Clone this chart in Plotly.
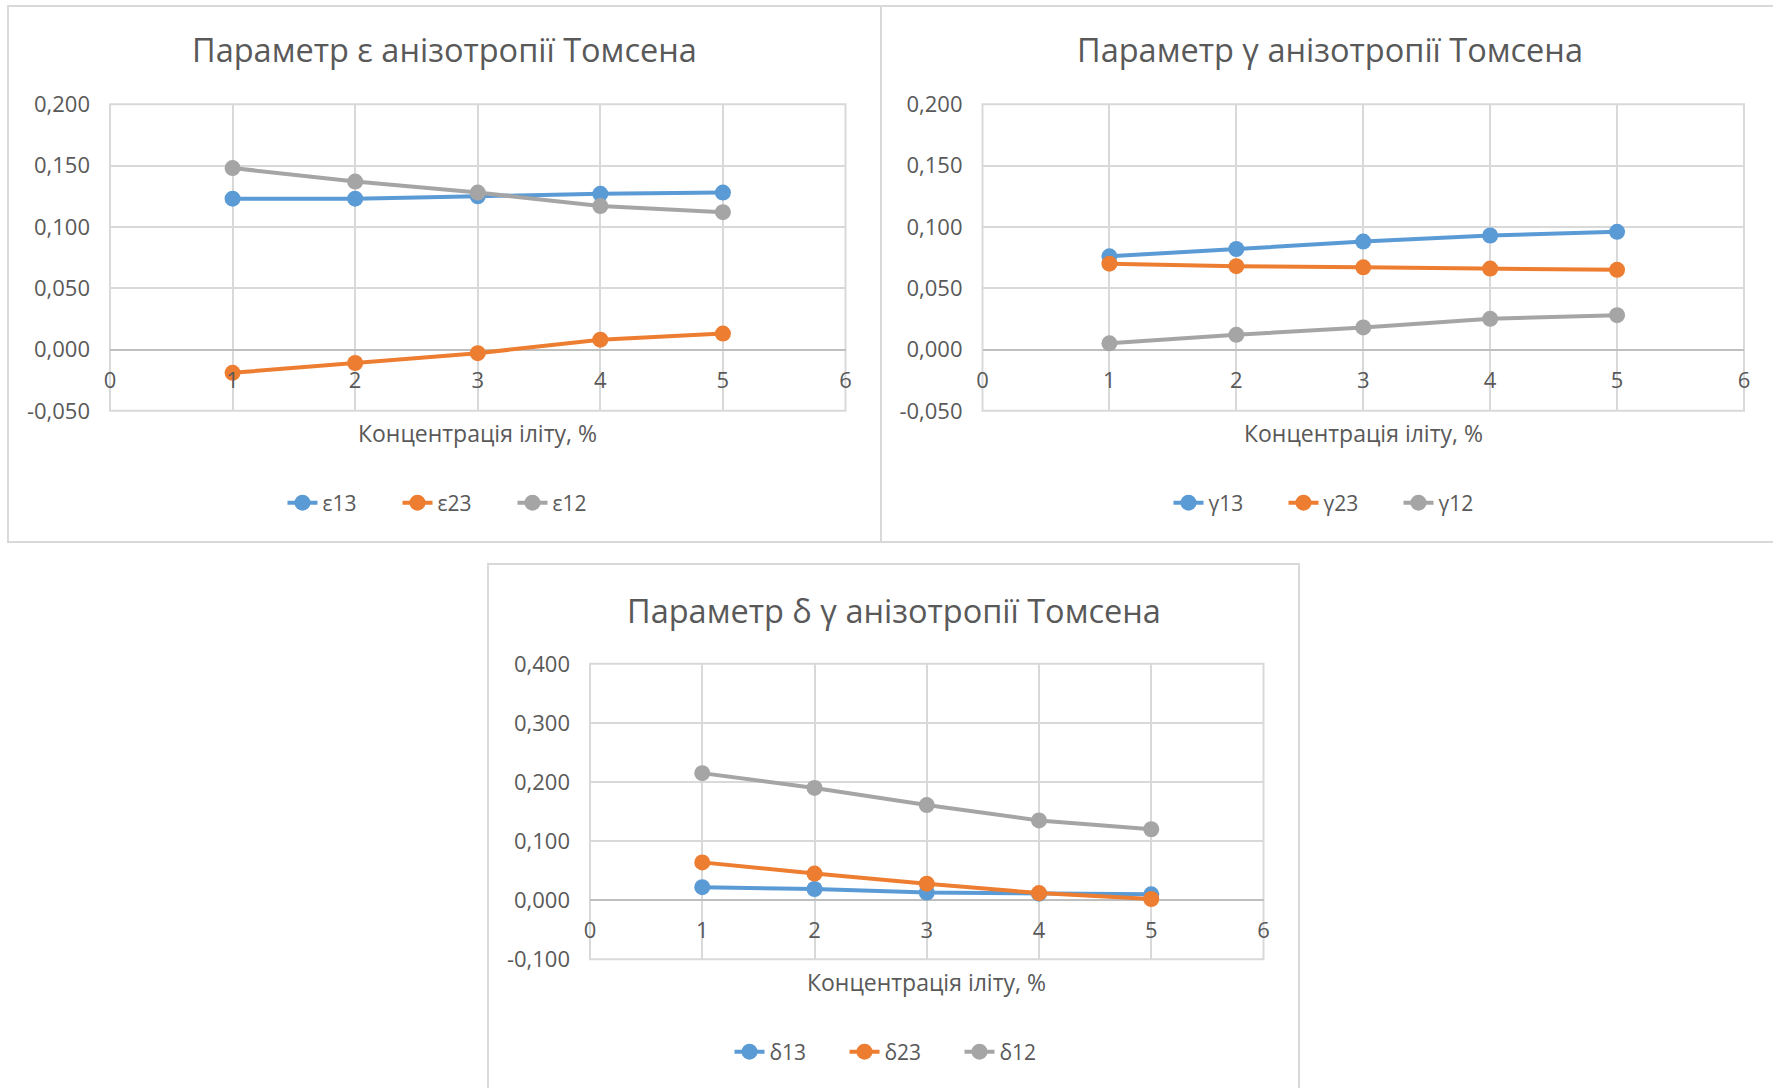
import plotly.graph_objects as go

# ---------------- data ----------------
concentration = [1, 2, 3, 4, 5]

eps13 = [0.123, 0.123, 0.125, 0.127, 0.128]
eps23 = [-0.019, -0.011, -0.003, 0.008, 0.013]
eps12 = [0.148, 0.137, 0.128, 0.117, 0.112]

gam13 = [0.076, 0.082, 0.088, 0.093, 0.096]
gam23 = [0.070, 0.068, 0.067, 0.066, 0.065]
gam12 = [0.005, 0.012, 0.018, 0.025, 0.028]

del13 = [0.022, 0.019, 0.013, 0.011, 0.010]
del23 = [0.064, 0.045, 0.028, 0.012, 0.002]
del12 = [0.215, 0.190, 0.161, 0.135, 0.120]

x_ticks = [0, 1, 2, 3, 4, 5, 6]
y_ticks_top = [-0.05, 0.0, 0.05, 0.10, 0.15, 0.20]
y_ticktext_top = ["-0,050", "0,000", "0,050", "0,100", "0,150", "0,200"]
y_ticks_bot = [-0.1, 0.0, 0.1, 0.2, 0.3, 0.4]
y_ticktext_bot = ["-0,100", "0,000", "0,100", "0,200", "0,300", "0,400"]

titles = ["Параметр ε анізотропії Томсена",
          "Параметр γ анізотропії Томсена",
          "Параметр δ γ анізотропії Томсена"]
x_title = "Концентрація іліту, %"
names_eps = ["ε13", "ε23", "ε12"]
names_gam = ["γ13", "γ23", "γ12"]
names_del = ["δ13", "δ23", "δ12"]

# ---------------- style ----------------
W, H = 1773, 1088
COLORS = ["#5B9BD5", "#ED7D31", "#A5A5A5"]
TXT = "#595959"
GRID = "#D9D9D9"
FONT = "Open Sans"


def px2x(p):
    return p / W


def px2y(p):
    return 1 - p / H


fig = go.Figure()

panels = [
    dict(xa="x", ya="y", px=(110, 845.5), py=(104.3, 410.8), rng=(-0.05, 0.2),
         yt=y_ticks_top, ytt=y_ticktext_top, series=[eps13, eps23, eps12],
         names=names_eps, legend="legend", title=titles[0],
         title_xy=(444, 50), axt_y=433, leg_xy=(455, 503)),
    dict(xa="x2", ya="y2", px=(982.5, 1744), py=(104.3, 410.8), rng=(-0.05, 0.2),
         yt=y_ticks_top, ytt=y_ticktext_top, series=[gam13, gam23, gam12],
         names=names_gam, legend="legend2", title=titles[1],
         title_xy=(1330, 50), axt_y=433, leg_xy=(1341, 503)),
    dict(xa="x3", ya="y3", px=(590, 1263.5), py=(663.8, 959.3), rng=(-0.1, 0.4),
         yt=y_ticks_bot, ytt=y_ticktext_bot, series=[del13, del23, del12],
         names=names_del, legend="legend3", title=titles[2],
         title_xy=(894, 610), axt_y=982, leg_xy=(902, 1052)),
]

annotations = []
shapes = []
for i, p in enumerate(panels):
    sfx = "" if i == 0 else str(i + 1)
    for s, nm, c in zip(p["series"], p["names"], COLORS):
        fig.add_trace(go.Scatter(
            x=concentration, y=s, name=nm, mode="lines+markers",
            line=dict(color=c, width=4),
            marker=dict(color=c, size=16),
            xaxis=p["xa"], yaxis=p["ya"], legend=p["legend"],
            hoverinfo="skip"))
    y0p, y1p = px2y(p["py"][1]), px2y(p["py"][0])
    lo, hi = p["rng"]
    zero_pos = y0p + (0 - lo) / (hi - lo) * (y1p - y0p)
    fig.update_layout(**{
        "xaxis" + sfx: dict(
            domain=[px2x(p["px"][0]), px2x(p["px"][1])],
            range=[0, 6], tickvals=x_ticks, anchor="free", position=zero_pos,
            showgrid=True, gridcolor=GRID, gridwidth=2, zeroline=False,
            showline=False, ticks="", ticklabelstandoff=15,
            tickfont=dict(family=FONT, size=22, color=TXT), fixedrange=True),
        "yaxis" + sfx: dict(
            domain=[y0p, y1p], range=[lo, hi], anchor=p["xa"],
            tickvals=p["yt"], ticktext=p["ytt"],
            showgrid=True, gridcolor=GRID, gridwidth=2,
            zeroline=True, zerolinecolor="#BFBFBF", zerolinewidth=2,
            showline=False, ticks="", ticklabelstandoff=19,
            tickfont=dict(family=FONT, size=22, color=TXT), fixedrange=True),
        p["legend"]: dict(
            orientation="h", x=px2x(p["leg_xy"][0]), y=px2y(p["leg_xy"][1]),
            xanchor="center", yanchor="middle", bgcolor="rgba(0,0,0,0)",
            font=dict(family=FONT, size=21, color=TXT),
            entrywidth=70, entrywidthmode="pixels", tracegroupgap=0),
    })
    # plot-area frame (edge gridlines)
    shapes.append(dict(type="rect", xref=p["xa"] + " domain", yref=p["ya"] + " domain",
                       x0=0, x1=1, y0=0, y1=1, line=dict(color=GRID, width=2),
                       fillcolor="rgba(0,0,0,0)", layer="below"))
    annotations.append(dict(
        text=p["title"], x=px2x(p["title_xy"][0]), y=px2y(p["title_xy"][1]),
        xref="paper", yref="paper", xanchor="center", yanchor="middle",
        showarrow=False, font=dict(family=FONT, size=32.5, color=TXT)))
    annotations.append(dict(
        text=x_title, x=px2x((p["px"][0] + p["px"][1]) / 2), y=px2y(p["axt_y"]),
        xref="paper", yref="paper", xanchor="center", yanchor="middle",
        showarrow=False, font=dict(family=FONT, size=23, color=TXT)))

# chart frames
frames = [(8, 6, 881, 542), (881, 6, 1800, 542), (488, 564, 1299, 1120)]
for a, b, c, d in frames:
    shapes.append(dict(type="rect", xref="paper", yref="paper",
                       x0=px2x(a), x1=px2x(c), y0=px2y(d), y1=px2y(b),
                       line=dict(color=GRID, width=2), fillcolor="rgba(0,0,0,0)",
                       layer="below"))

fig.update_layout(
    width=W, height=H, margin=dict(l=0, r=0, t=0, b=0, autoexpand=False),
    paper_bgcolor="white", plot_bgcolor="white",
    separators=", ", annotations=annotations, shapes=shapes,
    font=dict(family=FONT, color=TXT), showlegend=True,
)

fig.write_html("out.html", config=dict(displayModeBar=False),
               post_script="document.body.style.margin='0';document.body.style.overflow='hidden';")
